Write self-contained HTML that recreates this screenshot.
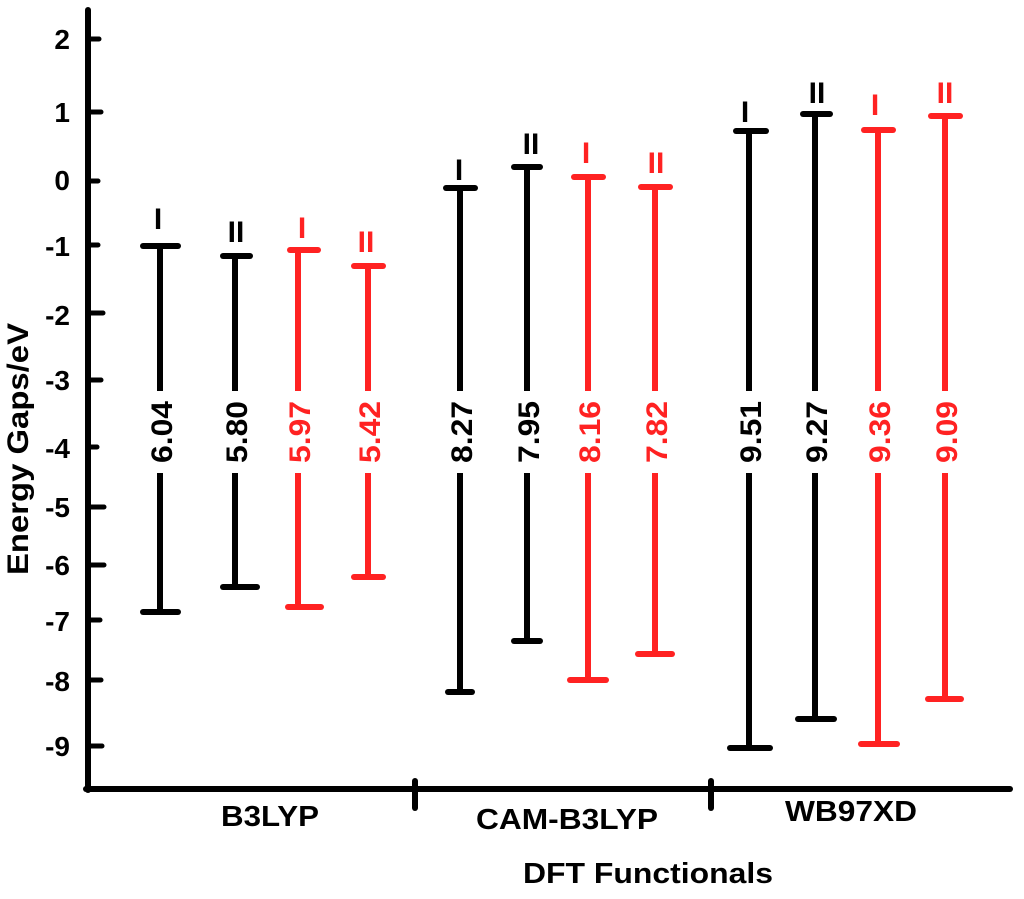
<!DOCTYPE html><html><head><style>body{margin:0;background:#fff}</style></head><body>
<svg width="1024" height="894" xmlns="http://www.w3.org/2000/svg" font-family="Liberation Sans, Arial, sans-serif" font-weight="bold">
<g stroke="#000" stroke-width="6" stroke-linecap="round">
<line x1="88" y1="10" x2="88" y2="790"/>
<line x1="86" y1="789" x2="1010" y2="789"/>
<line x1="415" y1="781" x2="415" y2="808"/>
<line x1="711" y1="781" x2="711" y2="808"/>
<g stroke-width="5">
<line x1="88" y1="39" x2="99" y2="39"/><line x1="88" y1="112" x2="101" y2="112"/><line x1="88" y1="181" x2="98" y2="181"/><line x1="88" y1="245" x2="98" y2="245"/><line x1="88" y1="313" x2="103" y2="313"/><line x1="88" y1="380" x2="101" y2="380"/><line x1="88" y1="447" x2="97" y2="447"/><line x1="88" y1="507" x2="104" y2="507"/><line x1="88" y1="565" x2="104" y2="565"/><line x1="88" y1="620" x2="100" y2="620"/><line x1="88" y1="680" x2="101" y2="680"/><line x1="88" y1="746" x2="102" y2="746"/>
</g></g>
<g font-size="28" text-anchor="end" fill="#000">
<text x="70" y="49">2</text><text x="70" y="122">1</text><text x="70" y="190">0</text><text x="70" y="256">-1</text><text x="70" y="325">-2</text><text x="70" y="390">-3</text><text x="70" y="458">-4</text><text x="70" y="517">-5</text><text x="70" y="575">-6</text><text x="70" y="631">-7</text><text x="70" y="691">-8</text><text x="70" y="756">-9</text>
</g>
<text transform="translate(28,449) rotate(-90)" font-size="30" text-anchor="middle" textLength="252" lengthAdjust="spacingAndGlyphs">Energy Gaps/eV</text>
<g font-size="29" text-anchor="middle">
<text x="270" y="826" textLength="98" lengthAdjust="spacingAndGlyphs">B3LYP</text>
<text x="567" y="829" textLength="182" lengthAdjust="spacingAndGlyphs">CAM-B3LYP</text>
<text x="851" y="821" textLength="132" lengthAdjust="spacingAndGlyphs">WB97XD</text>
<text x="648" y="883" textLength="250" lengthAdjust="spacingAndGlyphs">DFT Functionals</text>
</g>
<g stroke-width="6" stroke-linecap="round">
<g stroke="#000"><line x1="160" y1="246" x2="160" y2="612"/><line x1="143" y1="246" x2="178" y2="246"/><line x1="143" y1="612" x2="178" y2="612"/></g>
<g stroke="#000"><line x1="235" y1="256" x2="235" y2="587"/><line x1="223" y1="256" x2="250" y2="256"/><line x1="223" y1="587" x2="257" y2="587"/></g>
<g stroke="#f22"><line x1="298" y1="250" x2="298" y2="607"/><line x1="290" y1="250" x2="318" y2="250"/><line x1="288" y1="607" x2="321" y2="607"/></g>
<g stroke="#f22"><line x1="368" y1="266" x2="368" y2="577"/><line x1="354" y1="266" x2="383" y2="266"/><line x1="354" y1="577" x2="383" y2="577"/></g>
<g stroke="#000"><line x1="460" y1="188" x2="460" y2="692"/><line x1="446" y1="188" x2="475" y2="188"/><line x1="448" y1="692" x2="472" y2="692"/></g>
<g stroke="#000"><line x1="527" y1="167" x2="527" y2="641"/><line x1="514" y1="167" x2="540" y2="167"/><line x1="514" y1="641" x2="540" y2="641"/></g>
<g stroke="#f22"><line x1="588" y1="177" x2="588" y2="680"/><line x1="574" y1="177" x2="603" y2="177"/><line x1="570" y1="680" x2="606" y2="680"/></g>
<g stroke="#f22"><line x1="655" y1="187" x2="655" y2="654"/><line x1="641" y1="187" x2="670" y2="187"/><line x1="638" y1="654" x2="672" y2="654"/></g>
<g stroke="#000"><line x1="749" y1="131" x2="749" y2="748"/><line x1="736" y1="131" x2="766" y2="131"/><line x1="730" y1="748" x2="770" y2="748"/></g>
<g stroke="#000"><line x1="815" y1="114" x2="815" y2="719"/><line x1="803" y1="114" x2="830" y2="114"/><line x1="798" y1="719" x2="834" y2="719"/></g>
<g stroke="#f22"><line x1="878" y1="130" x2="878" y2="744"/><line x1="864" y1="130" x2="893" y2="130"/><line x1="861" y1="744" x2="897" y2="744"/></g>
<g stroke="#f22"><line x1="945" y1="116" x2="945" y2="699"/><line x1="931" y1="116" x2="960" y2="116"/><line x1="928" y1="699" x2="961" y2="699"/></g>
</g>
<g font-size="30" text-anchor="middle">
<text x="158" y="229">I</text><text x="236" y="242">II</text><text x="302" y="238" fill="#f22">I</text><text x="366" y="252" fill="#f22">II</text>
<text x="459" y="180">I</text><text x="531" y="154">II</text><text x="586" y="163" fill="#f22">I</text><text x="656" y="173" fill="#f22">II</text>
<text x="745" y="122">I</text><text x="817" y="103">II</text><text x="875" y="115" fill="#f22">I</text><text x="945" y="103" fill="#f22">II</text>
</g>
<g font-size="30" text-anchor="middle">
<g transform="translate(172,432) rotate(-90)"><rect x="-41" y="-24" width="82" height="30" fill="#fff"/><text textLength="62" lengthAdjust="spacingAndGlyphs">6.04</text></g>
<g transform="translate(247,432) rotate(-90)"><rect x="-41" y="-24" width="82" height="30" fill="#fff"/><text textLength="62" lengthAdjust="spacingAndGlyphs">5.80</text></g>
<g transform="translate(310,432) rotate(-90)" fill="#f22"><rect x="-41" y="-24" width="82" height="30" fill="#fff"/><text textLength="62" lengthAdjust="spacingAndGlyphs">5.97</text></g>
<g transform="translate(380,432) rotate(-90)" fill="#f22"><rect x="-41" y="-24" width="82" height="30" fill="#fff"/><text textLength="62" lengthAdjust="spacingAndGlyphs">5.42</text></g>
<g transform="translate(472,432) rotate(-90)"><rect x="-41" y="-24" width="82" height="30" fill="#fff"/><text textLength="62" lengthAdjust="spacingAndGlyphs">8.27</text></g>
<g transform="translate(539,432) rotate(-90)"><rect x="-41" y="-24" width="82" height="30" fill="#fff"/><text textLength="62" lengthAdjust="spacingAndGlyphs">7.95</text></g>
<g transform="translate(600,432) rotate(-90)" fill="#f22"><rect x="-41" y="-24" width="82" height="30" fill="#fff"/><text textLength="62" lengthAdjust="spacingAndGlyphs">8.16</text></g>
<g transform="translate(667,432) rotate(-90)" fill="#f22"><rect x="-41" y="-24" width="82" height="30" fill="#fff"/><text textLength="62" lengthAdjust="spacingAndGlyphs">7.82</text></g>
<g transform="translate(761,432) rotate(-90)"><rect x="-41" y="-24" width="82" height="30" fill="#fff"/><text textLength="62" lengthAdjust="spacingAndGlyphs">9.51</text></g>
<g transform="translate(827,432) rotate(-90)"><rect x="-41" y="-24" width="82" height="30" fill="#fff"/><text textLength="62" lengthAdjust="spacingAndGlyphs">9.27</text></g>
<g transform="translate(890,432) rotate(-90)" fill="#f22"><rect x="-41" y="-24" width="82" height="30" fill="#fff"/><text textLength="62" lengthAdjust="spacingAndGlyphs">9.36</text></g>
<g transform="translate(957,432) rotate(-90)" fill="#f22"><rect x="-41" y="-24" width="82" height="30" fill="#fff"/><text textLength="62" lengthAdjust="spacingAndGlyphs">9.09</text></g>
</g>
</svg></body></html>
